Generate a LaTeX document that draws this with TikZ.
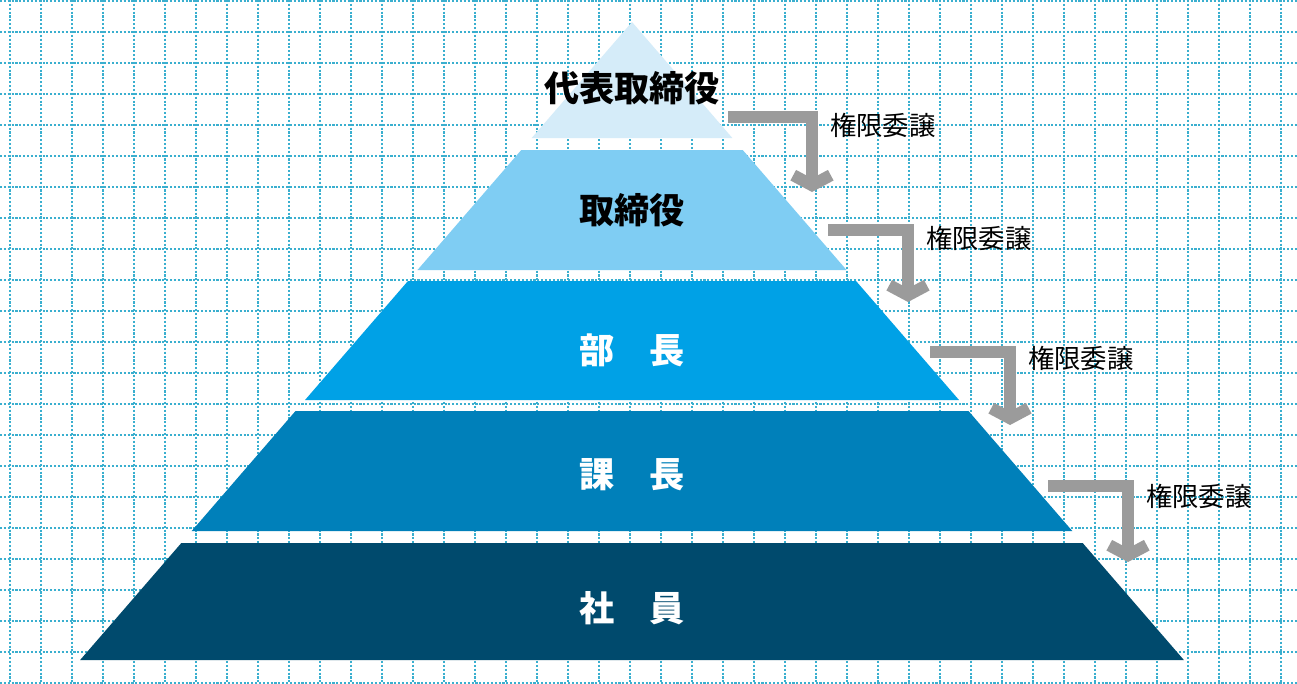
\documentclass[tikz,border=0pt]{standalone}
\usepackage{fontspec}
\newfontfamily\jp{Noto Sans CJK JP}
\usetikzlibrary{arrows.meta}
\definecolor{gridc}{HTML}{3AAFCF}
\definecolor{tierA}{HTML}{D5ECF9}
\definecolor{tierB}{HTML}{7FCDF3}
\definecolor{tierC}{HTML}{00A1E6}
\definecolor{tierD}{HTML}{0080BA}
\definecolor{tierE}{HTML}{004A6D}
\definecolor{arrowc}{HTML}{9B9B9B}

\begin{document}
\begin{tikzpicture}[x=0.02cm,y=-0.02cm,>=stealth]
 \tikzstyle{gridline} = [gridc,densely dotted,line width=1.2pt]
 \tikzstyle{tiertext} = [font=\jp\bfseries\fontsize{20}{24}\selectfont]
 \tikzstyle{delegate} = [font=\jp\fontsize{15}{18}\selectfont,anchor=west]
 \tikzstyle{elbow} = [arrowc,line width=0.24cm,-{Straight Barb[length=0.2cm,width=0.75cm]}]
 \newcommand{\slp}{0.865}
 \newcommand{\tier}[4]{%
  \fill[#3] ({632-\slp*(#1-22)},#1) -- ({632+\slp*(#1-22)},#1)
   -- ({632+\slp*(#2-22)},#2) -- ({632-\slp*(#2-22)},#2) -- cycle;
  \coordinate (#4) at (632,{(#1+#2)/2});}
 \useasboundingbox (0,0) rectangle (1297,683);

% Grid paper
 \fill[white] (0,0) rectangle (1297,683);
 \foreach \gx in {10,41,...,1297} \draw[gridline] (\gx,0) -- (\gx,683);
 \foreach \gy in {1,32,...,683} \draw[gridline] (0,\gy) -- (1297,\gy);

% Pyramid tiers
 \tier{22}{138}{tierA}{t1}
 \tier{150}{270}{tierB}{t2}
 \tier{281}{400}{tierC}{t3}
 \tier{411}{531}{tierD}{t4}
 \tier{543}{660}{tierE}{t5}

 \node[tiertext,black] (l1) at (632,88) {代表取締役};
 \node[tiertext,black] (l2) at (632,210) {取締役};
 \node[tiertext,white] (l3) at (632,350) {部　長};
 \node[tiertext,white] (l4) at (632,475) {課　長};
 \node[tiertext,white] (l5) at (632,608) {社　員};

% Delegation arrows
 \coordinate (a1s) at (728,117); \coordinate (a1e) at (812,192);
 \coordinate (a2s) at (828,230); \coordinate (a2e) at (908,302);
 \coordinate (a3s) at (930,352); \coordinate (a3e) at (1010,425);
 \coordinate (a4s) at (1048,486); \coordinate (a4e) at (1128,562);
 \draw[elbow] (a1s) -| (a1e);
 \draw[elbow] (a2s) -| (a2e);
 \draw[elbow] (a3s) -| (a3e);
 \draw[elbow] (a4s) -| (a4e);

 \node[delegate] (d1) at (824,125) {権限委譲};
 \node[delegate] (d2) at (920,238) {権限委譲};
 \node[delegate] (d3) at (1022,358) {権限委譲};
 \node[delegate] (d4) at (1140,496) {権限委譲};
\end{tikzpicture}
\end{document}
